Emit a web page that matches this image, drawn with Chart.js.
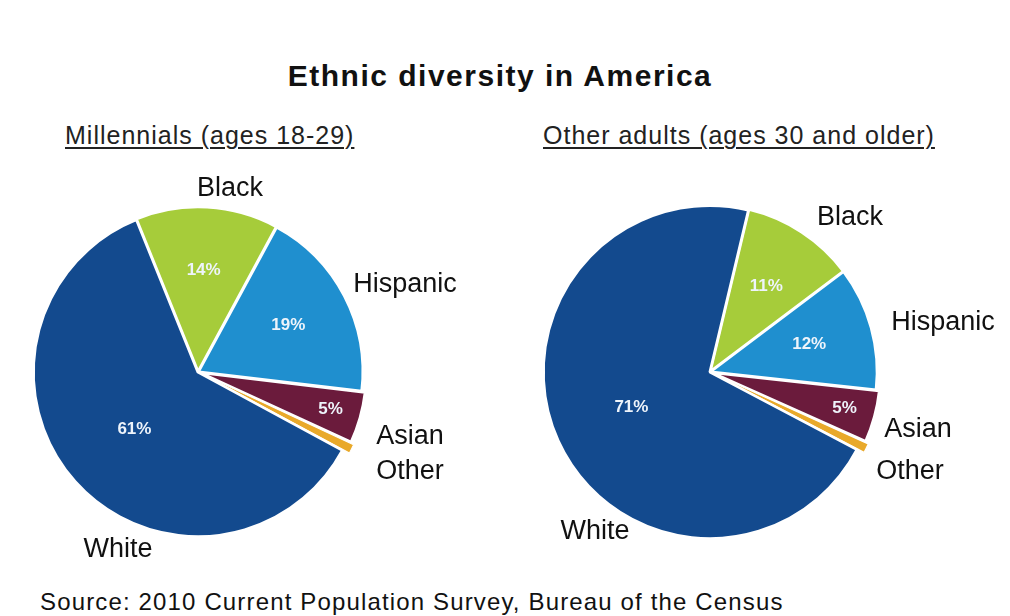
<!DOCTYPE html>
<html lang="en">
<head>
    <meta charset="UTF-8">
    <title>Ethnic diversity in America</title>
    <script src="https://cdn.jsdelivr.net/npm/chart.js"></script>
    <style>
        body { margin: 0; background: #fff; font-family: "Liberation Sans", Arial, sans-serif; color: #111; }
        #page { position: relative; width: 1010px; height: 616px; overflow: hidden; }
        .txt { position: absolute; white-space: nowrap; }
        #title { left: 0; width: 1000px; top: 59px; text-align: center; font-size: 30px; font-weight: bold; letter-spacing: 1.5px; }
        .sub { top: 121px; font-size: 25px; letter-spacing: 1px; text-decoration: underline; text-decoration-thickness: 2px; text-underline-offset: 3px; color: #222; }
        #source { left: 40px; top: 588px; font-size: 24px; letter-spacing: 1.15px; }
        canvas { position: absolute; }
    </style>
</head>
<body>
<div id="page">
    <div id="title" class="txt">Ethnic diversity in America</div>
    <div class="txt sub" style="left:65px">Millennials (ages 18-29)</div>
    <div class="txt sub" style="left:543px">Other adults (ages 30 and older)</div>
    <div id="source" class="txt">Source: 2010 Current Population Survey, Bureau of the Census</div>
    <canvas id="millennialsChart" style="left:0;top:150px"></canvas>
    <canvas id="olderChart" style="left:505px;top:150px"></canvas>
</div>
<script>
    // data (percent of each age group)
    const groups = ['Black', 'Hispanic', 'Asian', 'Other', 'White'];
    const millennials = [14, 19, 5, 1, 61];
    const olderAdults = [11, 12, 5, 1, 71];
    const colors = ['#a6cc3a', '#1f8fcf', '#6b1b3c', '#e9a92a', '#134a8e'];

    // draws the percent labels inside the slices and the group names outside
    const sliceLabels = {
        id: 'sliceLabels',
        afterDatasetsDraw(chart, args, opts) {
            const ctx = chart.ctx;
            const meta = chart.getDatasetMeta(0);
            const values = chart.data.datasets[0].data;
            ctx.save();
            ctx.textAlign = 'center';
            ctx.textBaseline = 'middle';
            meta.data.forEach((arc, i) => {
                const p = arc.getProps(['x', 'y', 'startAngle', 'endAngle', 'outerRadius'], true);
                const mid = (p.startAngle + p.endAngle) / 2;
                if (values[i] >= 3) {
                    const r = p.outerRadius * opts.inner[i];
                    ctx.font = 'bold 17px "Liberation Sans", Arial, sans-serif';
                    ctx.fillStyle = '#eef4fb';
                    ctx.fillText(values[i] + '%', p.x + Math.cos(mid) * r, p.y + Math.sin(mid) * r);
                }
                const o = opts.outer[i];
                ctx.font = '27px "Liberation Sans", Arial, sans-serif';
                ctx.fillStyle = '#111';
                ctx.fillText(chart.data.labels[i], p.x + o[0], p.y + o[1]);
            });
            ctx.restore();
        }
    };

    function makePie(id, values, rotation, padRight, radius, outer) {
        const el = document.getElementById(id);
        el.width = 505;
        el.height = 444;
        new Chart(el.getContext('2d'), {
            type: 'pie',
            data: {
                labels: groups,
                datasets: [{
                    data: values,
                    backgroundColor: colors,
                    borderColor: '#ffffff',
                    borderWidth: [2.5, 2.5, 2.5, 1.2, 2.5],
                    offset: [3, 3, 10, 16, 1]
                }]
            },
            options: {
                responsive: false,
                animation: false,
                rotation: rotation,
                radius: radius,
                layout: { padding: { left: 0, right: padRight, top: 0, bottom: 0 } },
                plugins: {
                    legend: { display: false },
                    tooltip: { enabled: false },
                    sliceLabels: {
                        inner: [0.62, 0.62, 0.84, 0.8, 0.52],
                        outer: outer
                    }
                }
            },
            plugins: [sliceLabels]
        });
    }

    makePie('millennialsChart', millennials, -22, 109, 164,
        [[32, -183], [207, -87], [212, 65], [212, 100], [-80, 178]]);
    makePie('olderChart', olderAdults, 13.4, 95, 166,
        [[140, -154], [233, -49], [208, 58], [200, 100], [-115, 160]]);
</script>
</body>
</html>
